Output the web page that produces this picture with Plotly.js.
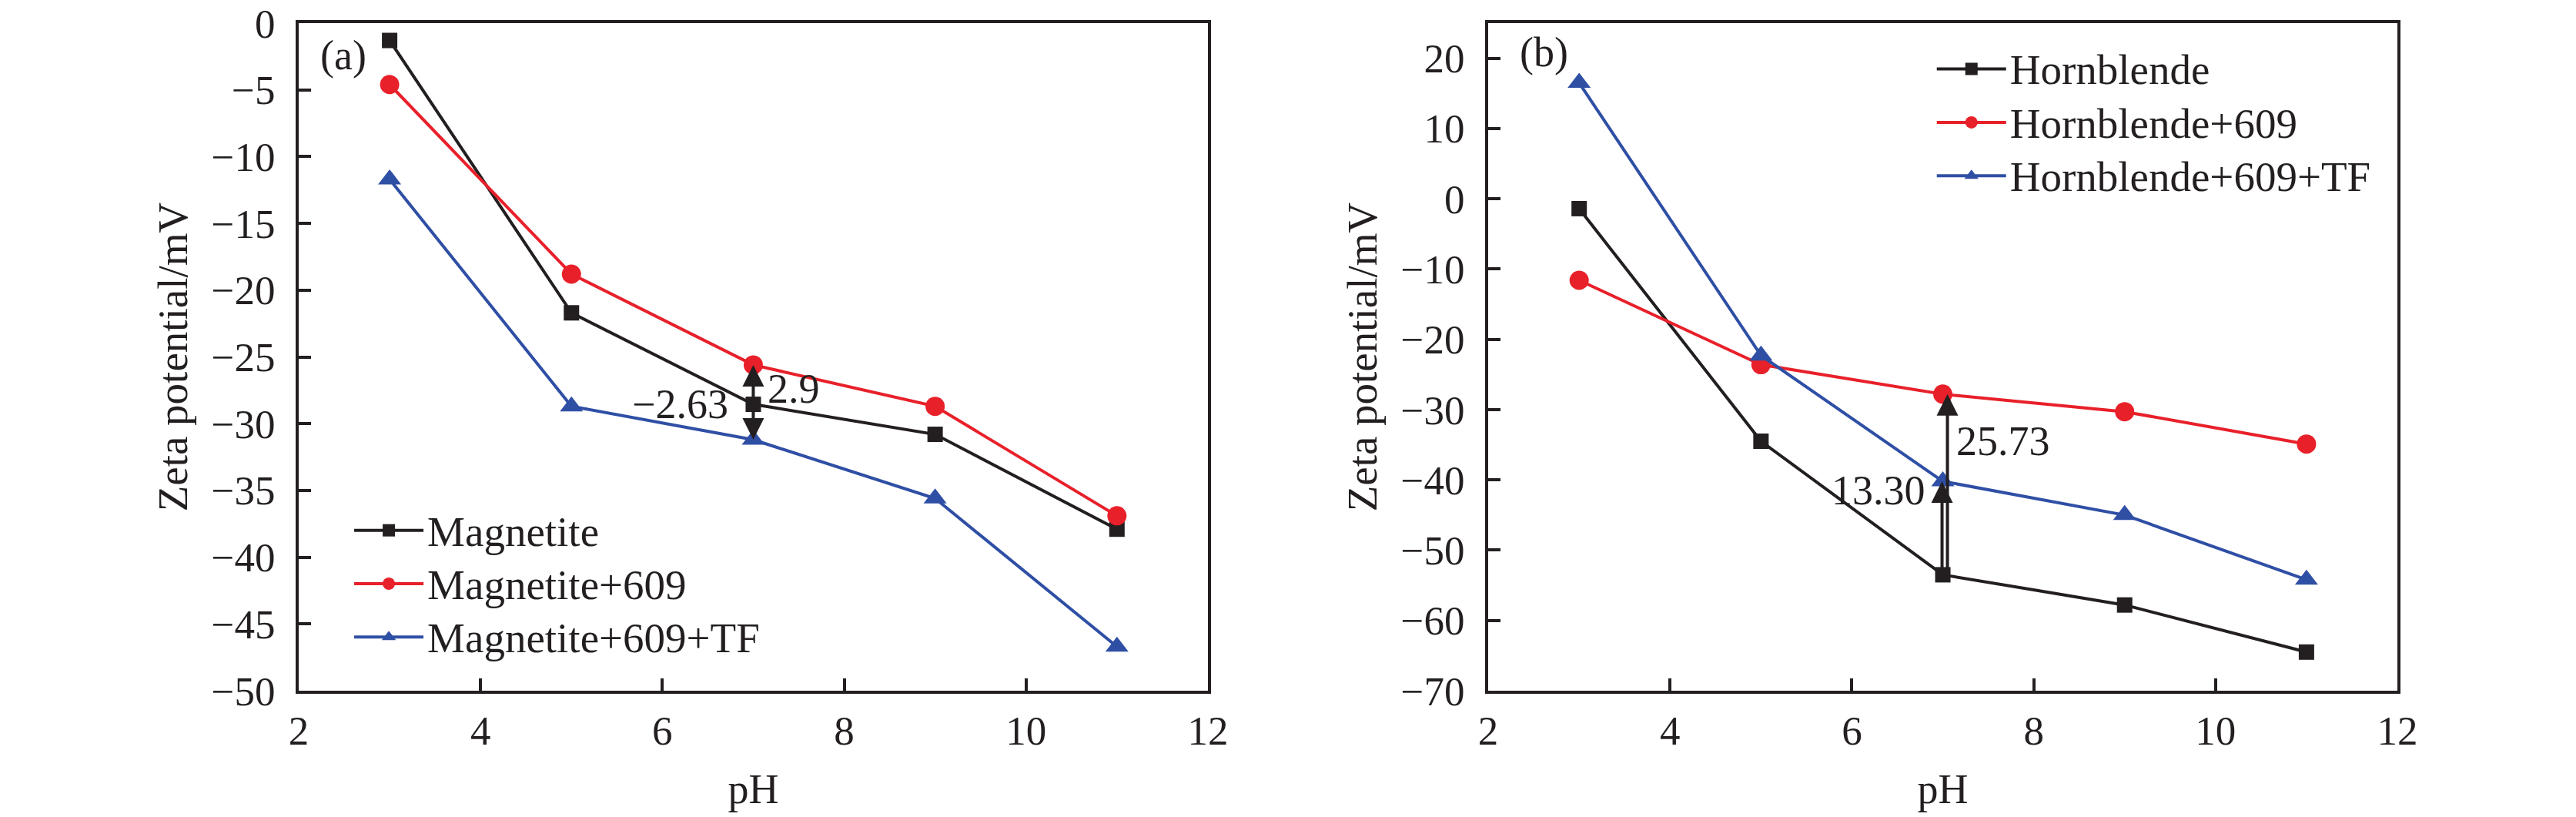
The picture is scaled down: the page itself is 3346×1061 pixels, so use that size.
<!DOCTYPE html>
<html>
<head>
<meta charset="utf-8">
<script src="https://cdn.plot.ly/plotly-3.0.1.min.js"></script>
<style>
  html, body { margin: 0; padding: 0; background: #fff; }
  #chart { width: 3346px; height: 1061px; }
</style>
</head>
<body>
<div id="chart"></div>
<script>
// pH values shared by both panels
var ph = [3, 5, 7, 9, 11];

// panel (a) magnetite, zeta potential in mV
var magnetite = [-1.3, -21.7, -28.55, -30.8, -37.9];
var magnetite609 = [-4.6, -18.8, -25.6, -28.7, -36.9];
var magnetite609TF = [-11.7, -28.7, -31.2, -35.6, -46.7];

// panel (b) hornblende, zeta potential in mV
var hornblende = [-1.4, -34.5, -53.5, -57.8, -64.5];
var hornblende609 = [-11.6, -23.6, -27.8, -30.3, -34.9];
var hornblende609TF = [16.5, -22.3, -40.2, -45.0, -54.2];

// labels
var namesA = ['Magnetite', 'Magnetite+609', 'Magnetite+609+TF'];
var namesB = ['Hornblende', 'Hornblende+609', 'Hornblende+609+TF'];
var diffLabelsA = ['\u22122.63', '2.9'];
var diffLabelsB = ['13.30', '25.73'];

var black = '#231f20';
var red = '#e8202a';
var blue = '#2f4fa5';
var font = 'Liberation Serif, Times New Roman, serif';

// legend rows are spaced from legend.font.size, the text itself is drawn a bit larger
function legendName(name) {
  return '<span style="font-size:55px">' + name + '</span>';
}

function series(y, name, color, symbol, size, xa, ya, legend) {
  return {
    x: ph, y: y, name: legendName(name), type: 'scatter', mode: 'lines+markers',
    xaxis: xa, yaxis: ya, legend: legend,
    line: { color: color, width: 4 },
    marker: { color: color, symbol: symbol, size: size, line: { width: 0 } }
  };
}

var data = [
  series(magnetite, namesA[0], black, 'square', 20, 'x', 'y', 'legend'),
  series(magnetite609, namesA[1], red, 'circle', 25, 'x', 'y', 'legend'),
  series(magnetite609TF, namesA[2], blue, 'triangle-up', 26, 'x', 'y', 'legend'),
  series(hornblende, namesB[0], black, 'square', 20, 'x2', 'y2', 'legend2'),
  series(hornblende609, namesB[1], red, 'circle', 25, 'x2', 'y2', 'legend2'),
  series(hornblende609TF, namesB[2], blue, 'triangle-up', 26, 'x2', 'y2', 'legend2')
];

function xAxis(domain, anchor) {
  return {
    domain: domain, anchor: anchor, range: [2, 12], dtick: 2, tick0: 2,
    showgrid: false, zeroline: false,
    showline: true, linecolor: black, linewidth: 4, mirror: true,
    ticks: 'inside', ticklen: 16, tickwidth: 4, tickcolor: black,
    ticklabelstandoff: 2,
    tickfont: { family: font, size: 53, color: black },
    title: { text: 'pH', font: { family: font, size: 54, color: black }, standoff: 30 }
  };
}

function yAxis(range, dtick, anchor) {
  return {
    domain: [0, 1], anchor: anchor, range: range, dtick: dtick, tick0: 0,
    showgrid: false, zeroline: false,
    showline: true, linecolor: black, linewidth: 4, mirror: true,
    ticks: 'inside', ticklen: 16, tickwidth: 4, tickcolor: black,
    ticklabelstandoff: 16,
    tickfont: { family: font, size: 53, color: black },
    title: { text: 'Zeta potential/mV', font: { family: font, size: 55, color: black }, standoff: 14 }
  };
}

var annFont = { family: font, size: 54, color: black };

function arrow(xa, ya, x, yHead, yTail, shift) {
  return {
    xref: xa, yref: ya, axref: xa, ayref: ya,
    x: x, y: yHead, ax: x, ay: yTail, text: ' ',
    showarrow: true, arrowhead: 2, arrowsize: 1.4, arrowwidth: 4,
    arrowcolor: black, standoff: 0, startstandoff: 0, xshift: shift
  };
}

function label(xa, ya, x, y, text, anchor) {
  return {
    xref: xa, yref: ya, x: x, y: y, text: text, showarrow: false,
    xanchor: anchor, yanchor: 'middle', font: annFont
  };
}

var annotations = [
  { xref: 'x domain', yref: 'y domain', x: 0.022, y: 0.952, text: '(a)', showarrow: false,
    xanchor: 'left', yanchor: 'middle', font: annFont },
  { xref: 'x2 domain', yref: 'y2 domain', x: 0.033, y: 0.956, text: '(b)', showarrow: false,
    xanchor: 'left', yanchor: 'middle', font: annFont },
  // panel (a): differences at pH 7 measured from Magnetite
  arrow('x', 'y', ph[2], magnetite609[2], magnetite[2], 0),
  arrow('x', 'y', ph[2], magnetite609TF[2], magnetite[2], 0),
  label('x', 'y', 6.74, magnetite[2], diffLabelsA[0], 'right'),
  label('x', 'y', 7.14, -27.4, diffLabelsA[1], 'left'),
  // panel (b): differences at pH 7 measured from Hornblende
  arrow('x2', 'y2', ph[2], hornblende609TF[2], hornblende[2], -1),
  arrow('x2', 'y2', ph[2], hornblende609[2], hornblende[2], 6),
  label('x2', 'y2', 6.83, -41.5, diffLabelsB[0], 'right'),
  label('x2', 'y2', 7.13, -34.5, diffLabelsB[1], 'left')
];

var legendStyle = {
  font: { family: font, size: 51, color: black },
  bgcolor: 'rgba(0,0,0,0)', borderwidth: 0,
  xanchor: 'left', yanchor: 'top', itemwidth: 90, tracegroupgap: 0
};

var layout = {
  width: 3346, height: 1061,
  margin: { l: 388, r: 232, t: 30, b: 164 },
  paper_bgcolor: '#fff', plot_bgcolor: '#fff',
  font: { family: font, color: black },
  xaxis: xAxis([0, 0.4332], 'y'),
  yaxis: yAxis([-50, 0], 5, 'x'),
  xaxis2: xAxis([0.5668, 1], 'y2'),
  yaxis2: yAxis([-70, 25], 10, 'x2'),
  legend: Object.assign({ x: 0.0246, y: 0.286 }, legendStyle),
  legend2: Object.assign({ x: 0.7787, y: 0.977 }, legendStyle),
  annotations: annotations,
  showlegend: true
};

Plotly.newPlot('chart', data, layout, { staticPlot: true });
</script>
</body>
</html>
